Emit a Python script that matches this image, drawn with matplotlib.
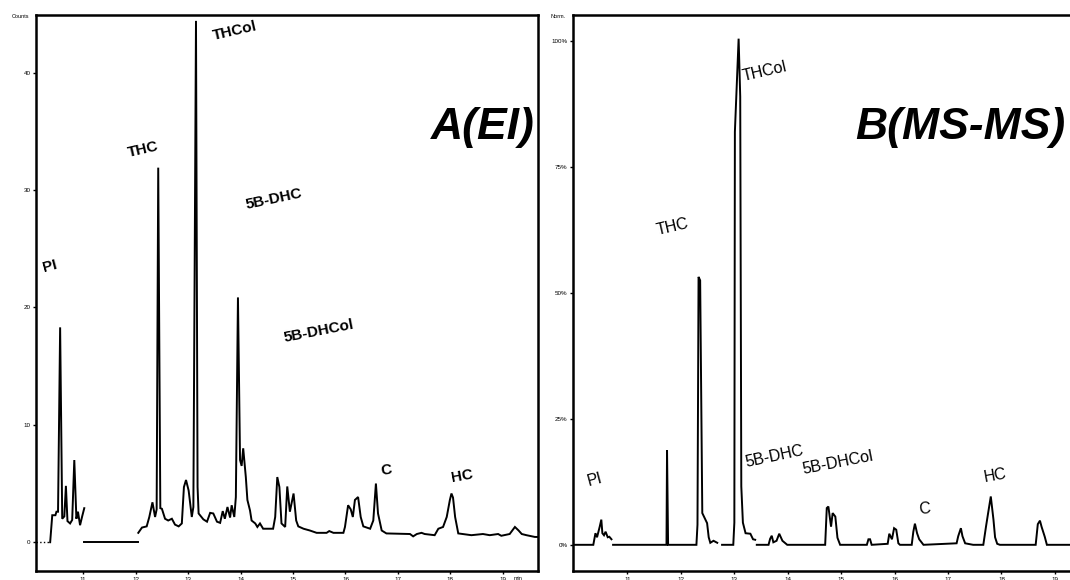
import matplotlib
matplotlib.use("Agg")
import matplotlib.pyplot as plt

plt.rcParams['font.family'] = ['Liberation Sans', 'DejaVu Sans']

# ---------------- Panel A (EI) : abundance (counts) vs time (min) ----------------
a_seg1_t = [10.37, 10.41, 10.47, 10.49, 10.52, 10.56, 10.60, 10.64, 10.67, 10.70, 10.75,
            10.79, 10.83, 10.87, 10.90, 10.94, 10.98, 11.02]
a_seg1_i = [0.0, 2.3, 2.3, 2.6, 2.6, 18.3, 2.0, 2.2, 4.8, 1.8, 1.6,
            1.9, 7.0, 2.0, 2.6, 1.45, 2.2, 2.9]
a_seg2_t = [11.02, 12.05]
a_seg2_i = [0.0, 0.0]
a_seg3_t = [12.05, 12.12, 12.21, 12.26, 12.32, 12.37, 12.40, 12.43, 12.47, 12.50, 12.56,
            12.62, 12.69, 12.75, 12.82, 12.88, 12.92, 12.96, 13.01, 13.07, 13.10, 13.15,
            13.18, 13.20, 13.29, 13.36, 13.42, 13.48, 13.55, 13.61, 13.66, 13.70, 13.75,
            13.80, 13.83, 13.88, 13.91, 13.95, 13.99, 14.02, 14.05, 14.10, 14.13, 14.18,
            14.21, 14.28, 14.32, 14.37, 14.43, 14.62, 14.66, 14.70, 14.74, 14.78, 14.85,
            14.89, 14.94, 15.01, 15.06, 15.10, 15.20, 15.32, 15.45, 15.64, 15.69, 15.77,
            15.96, 15.99, 16.05, 16.10, 16.14, 16.18, 16.24, 16.29, 16.34, 16.47, 16.53,
            16.58, 16.62, 16.69, 16.78, 17.23, 17.29, 17.36, 17.45, 17.51, 17.70, 17.77,
            17.86, 17.93, 17.99, 18.02, 18.05, 18.09, 18.15, 18.40, 18.62, 18.75, 18.91,
            18.97, 19.13, 19.23, 19.30, 19.36, 19.45, 19.61, 19.67]
a_seg3_i = [0.8, 1.25, 1.35, 2.15, 3.4, 2.15, 2.8, 31.9, 2.9, 2.85, 2.0,
            1.85, 2.0, 1.5, 1.35, 1.6, 4.7, 5.3, 4.4, 2.15, 3.0, 44.4,
            4.7, 2.45, 1.95, 1.75, 2.5, 2.45, 1.75, 1.65, 2.65, 2.0, 3.0,
            2.1, 3.15, 2.15, 3.85, 20.85, 7.0, 6.5, 8.0, 5.55, 3.6, 2.7,
            1.85, 1.6, 1.3, 1.6, 1.15, 1.15, 2.15, 5.55, 4.7, 1.6, 1.3,
            4.75, 2.6, 4.15, 1.85, 1.35, 1.15, 1.0, 0.8, 0.8, 0.95, 0.8,
            0.8, 1.3, 3.15, 2.8, 2.15, 3.6, 3.85, 2.15, 1.35, 1.15, 1.85,
            5.0, 2.45, 1.0, 0.75, 0.7, 0.5, 0.7, 0.8, 0.7, 0.6, 1.15,
            1.3, 2.15, 3.6, 4.15, 3.8, 2.15, 0.75, 0.6, 0.7, 0.6, 0.7,
            0.55, 0.7, 1.3, 1.0, 0.7, 0.6, 0.45, 0.45]
a_xticks = [11, 12, 13, 14, 15, 16, 17, 18, 19]
a_yticks = [0, 10, 20, 30, 40]

# ---------------- Panel B (MS-MS) : normalised % vs time (min) ----------------
b_seg1_t = [9.98, 10.36, 10.40, 10.43, 10.48, 10.51, 10.53, 10.56, 10.59, 10.63, 10.66, 10.70]
b_seg1_i = [0.0, 0.0, 2.3, 1.5, 3.6, 5.0, 2.3, 1.9, 2.6, 1.5, 1.6, 1.1]
b_seg2_t = [10.73, 11.73, 11.74, 11.76, 12.29, 12.31, 12.33, 12.36, 12.40, 12.49, 12.52,
            12.55, 12.61, 12.68]
b_seg2_i = [0.0, 0.0, 18.8, 0.0, 0.0, 4.0, 53.2, 52.5, 6.3, 4.3, 1.5,
            0.4, 0.8, 0.4]
b_seg3_t = [12.77, 12.98, 13.00, 13.01, 13.08, 13.11, 13.13, 13.16, 13.21, 13.30, 13.35, 13.39]
b_seg3_i = [0.0, 0.0, 4.4, 82.0, 100.5, 89.0, 11.6, 4.4, 2.3, 2.2, 1.1, 1.0]
b_seg4_t = [13.42, 13.64, 13.67, 13.70, 13.73, 13.79, 13.84, 13.87, 13.90, 13.99, 14.70,
            14.73, 14.76, 14.81, 14.84, 14.89, 14.93, 14.98, 15.48, 15.51, 15.54, 15.57,
            15.87, 15.90, 15.95, 15.99, 16.03, 16.07, 16.10, 16.32, 16.35, 16.38, 16.42,
            16.46, 16.54, 17.16, 17.19, 17.24, 17.27, 17.32, 17.47, 17.66, 17.71, 17.75,
            17.80, 17.85, 17.88, 17.92, 17.97, 18.64, 18.68, 18.72, 18.75, 18.81, 18.85,
            19.28]
b_seg4_i = [0.0, 0.0, 1.2, 1.8, 0.5, 0.8, 2.2, 1.5, 0.8, 0.0, 0.0,
            7.3, 7.6, 3.6, 6.3, 5.6, 1.4, 0.0, 0.0, 1.1, 1.1, 0.0,
            0.2, 2.2, 1.1, 3.3, 3.0, 0.3, 0.0, 0.0, 2.6, 4.2, 2.3,
            1.1, 0.0, 0.3, 1.7, 3.3, 1.7, 0.3, 0.0, 0.0, 3.6, 6.3,
            9.6, 5.0, 1.5, 0.2, 0.0, 0.0, 4.1, 4.8, 3.6, 1.6, 0.0,
            0.0]
b_xticks = [11, 12, 13, 14, 15, 16, 17, 18, 19]
b_yticks = [0, 25, 50, 75, 100]
b_ytick_labels = ['0%', '25%', '50%', '75%', '100%']

W, H = 1070, 580
fig = plt.figure(figsize=(W / 100, H / 100), dpi=100)


def px_axes(l, t, r, b):
    return fig.add_axes([l / W, 1 - b / H, (r - l) / W, (b - t) / H])


def style(ax):
    for s in ax.spines.values():
        s.set_linewidth(1.8)
    ax.tick_params(labelsize=4.5, length=2.5, width=1.0, pad=1.5)


LW = 1.4
# ---- Panel A ----
axA = px_axes(36, 15, 538, 571)
style(axA)
axA.plot([10.10, 10.37], [0, 0], color='black', lw=1.0, ls=':')
for t, i in [(a_seg1_t, a_seg1_i), (a_seg2_t, a_seg2_i), (a_seg3_t, a_seg3_i)]:
    axA.plot(t, i, color='black', lw=LW, solid_joinstyle='miter')
axA.set_xlim(10.10, 19.67)
axA.set_ylim(-2.45, 44.9)
axA.set_xticks(a_xticks)
axA.set_yticks(a_yticks)

# ---- Panel B ----
axB = px_axes(573, 15, 1072, 571)
style(axB)
axB.spines['right'].set_visible(False)
for t, i in [(b_seg1_t, b_seg1_i), (b_seg2_t, b_seg2_i), (b_seg3_t, b_seg3_i), (b_seg4_t, b_seg4_i)]:
    axB.plot(t, i, color='black', lw=LW, solid_joinstyle='miter')
axB.set_xlim(9.98, 19.32)
axB.set_ylim(-5.2, 105.2)
axB.set_xticks(b_xticks)
axB.set_yticks(b_yticks)
axB.set_yticklabels(b_ytick_labels)


def ftext(x, y, s, **kw):
    fig.text(x / W, 1 - y / H, s, ha='center', va='center', **kw)


ftext(20, 17, 'Counts', fontsize=4)
ftext(518, 578, 'min', fontsize=4)
ftext(558, 17, 'Norm.', fontsize=4)

# labels panel A (bold)
bold = dict(fontsize=11, fontweight='bold')
ftext(50, 266, 'PI', rotation=15, **bold)
ftext(143, 150, 'THC', rotation=13, **bold)
ftext(235, 31, 'THCol', rotation=13, **bold)
ftext(274, 199, '5B-DHC', rotation=12, **bold)
ftext(319, 331, '5B-DHCol', rotation=11, **bold)
ftext(386, 470, 'C', rotation=8, **bold)
ftext(462, 476, 'HC', rotation=10, **bold)
ftext(483, 127, 'A(EI)', fontsize=32, fontweight='bold', fontstyle='italic')

# labels panel B (regular)
reg = dict(fontsize=11.5)
ftext(595, 480, 'PI', rotation=15, **reg)
ftext(673, 227, 'THC', rotation=13, **reg)
ftext(765, 72, 'THCol', rotation=13, **reg)
ftext(774, 456, '5B-DHC', rotation=12, **reg)
ftext(838, 463, '5B-DHCol', rotation=11, **reg)
ftext(925, 509, 'C', rotation=5, **reg)
ftext(995, 476, 'HC', rotation=10, **reg)
ftext(960, 127, 'B(MS-MS)', fontsize=32, fontweight='bold', fontstyle='italic')

fig.savefig('out.png', dpi=100)
